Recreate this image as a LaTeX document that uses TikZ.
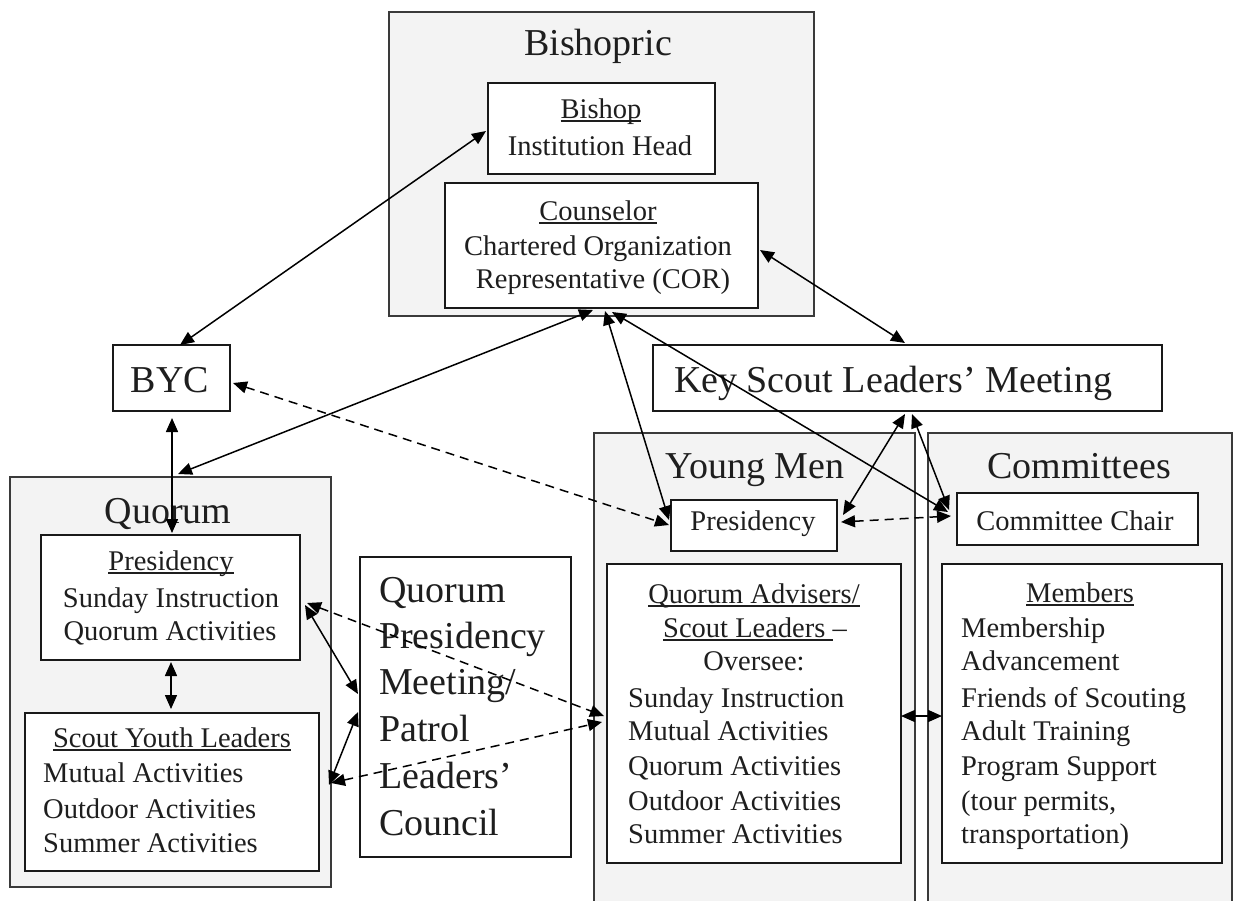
\documentclass[tikz,border=0pt]{standalone}
\usepackage{fontspec}
\setmainfont{Liberation Serif}
\usetikzlibrary{arrows.meta,calc}
\newcommand\ulx[1]{\setbox0\hbox{#1}\rlap{\rule[-3.5pt]{\wd0}{1.4pt}}\box0}
\definecolor{outerfill}{HTML}{F3F3F3}
\definecolor{edgecol}{HTML}{3A3A3A}
\definecolor{ink}{HTML}{1E1E1E}
\begin{document}
\begin{tikzpicture}[x=1pt,y=-1pt,
 outerbox/.style={draw=edgecol, fill=outerfill, line width=2pt, rectangle, inner sep=0pt, outer sep=0pt, anchor=north west},
 innerbox/.style={draw=black!90, fill=white, line width=2pt, rectangle, inner sep=0pt, outer sep=0pt, anchor=north west},
 ttl/.style={font=\fontsize{38}{46}\selectfont, text=ink, inner sep=0pt, anchor=base},
 ttlw/.style={ttl, anchor=base west},
 txt/.style={font=\fontsize{28.5}{34}\selectfont, text=ink, inner sep=0pt, anchor=base},
 txtw/.style={txt, anchor=base west},
 link/.style={line width=1.5pt, draw=black, {Triangle[length=14pt,width=12pt]}-{Triangle[length=14pt,width=12pt]}},
 dlink/.style={link, dash pattern=on 9pt off 6pt}]
\useasboundingbox (0,0) rectangle (1234,900);
\clip (0,0) rectangle (1234,900);
\fill[white] (0,0) rectangle (1234,900);

% outer group boxes
\node[outerbox, minimum width=425pt, minimum height=304pt] (bishopric) at (389,12) {};
\node[outerbox, minimum width=321pt, minimum height=410pt] (quorum) at (10,477) {};
\node[outerbox, minimum width=321pt, minimum height=475pt] (ym) at (594,433) {};
\node[outerbox, minimum width=304pt, minimum height=475pt] (comm) at (928,433) {};

% inner boxes
\node[innerbox, minimum width=227pt, minimum height=91pt] (bishop) at (488,83) {};
\node[innerbox, minimum width=313pt, minimum height=125pt] (counselor) at (445,183) {};
\node[innerbox, minimum width=117pt, minimum height=66pt] (byc) at (113,345) {};
\node[innerbox, minimum width=509pt, minimum height=66pt] (kslm) at (653,345) {};
\node[innerbox, minimum width=259pt, minimum height=125pt] (qpres) at (41,535) {};
\node[innerbox, minimum width=294pt, minimum height=158pt] (syl) at (25,713) {};
\node[innerbox, minimum width=211pt, minimum height=300pt] (qpm) at (360,557) {};
\node[innerbox, minimum width=166pt, minimum height=51pt] (ympres) at (671,500) {};
\node[innerbox, minimum width=294pt, minimum height=299pt] (qa) at (607,564) {};
\node[innerbox, minimum width=241pt, minimum height=52pt] (cchair) at (957,493) {};
\node[innerbox, minimum width=280pt, minimum height=299pt] (members) at (942,564) {};

% titles
\node[ttl] (tBishopric) at (598,55) {Bishopric};
\node[ttl] (tBYC) at (170,392) {BYC};
\node[ttl] (tKSLM) at (893,392) {Key Scout Leaders’ Meeting};
\node[ttl] (tQuorum) at (168,523) {Quorum};
\node[ttl] (tYM) at (755,478) {Young Men};
\node[ttl] (tComm) at (1079,478) {Committees};
\node[ttlw] (q1) at (379,602) {Quorum};
\node[ttlw] (q2) at (379,648) {Presidency};
\node[ttlw] (q3) at (379,694) {Meeting/};
\node[ttlw] (q4) at (379,741) {Patrol};
\node[ttlw] (q5) at (379,788) {Leaders’};
\node[ttlw] (q6) at (379,835) {Council};

% bishopric texts
\node[txt] (b1) at (601,118) {\ulx{Bishop}};
\node[txt] (b2) at (600,155) {Institution Head};
\node[txt] (c1) at (598,220) {\ulx{Counselor}};
\node[txt] (c2) at (598,255) {Chartered Organization};
\node[txt] (c3) at (603,288) {Representative (COR)};

% quorum texts
\node[txt] (p1) at (171,570) {\ulx{Presidency}};
\node[txt] (p2) at (171,607) {Sunday Instruction};
\node[txt] (p3) at (170,640) {Quorum Activities};
\node[txt] (s1) at (172,747) {\ulx{Scout Youth Leaders}};
\node[txtw] (s2) at (43,782) {Mutual Activities};
\node[txtw] (s3) at (43,818) {Outdoor Activities};
\node[txtw] (s4) at (43,852) {Summer Activities};

% young men texts
\node[txt] (y0) at (753,530) {Presidency};
\node[txt] (a1) at (754,603) {\ulx{Quorum Advisers/}};
\node[txt] (a2) at (755,637) {\ulx{Scout Leaders }–};
\node[txt] (a3) at (754,670) {Oversee:};
\node[txtw] (a4) at (628,707) {Sunday Instruction};
\node[txtw] (a5) at (628,740) {Mutual Activities};
\node[txtw] (a6) at (628,775) {Quorum Activities};
\node[txtw] (a7) at (628,810) {Outdoor Activities};
\node[txtw] (a8) at (628,843) {Summer Activities};

% committees texts
\node[txt] (m0) at (1075,530) {Committee Chair};
\node[txt] (m1) at (1080,602) {\ulx{Members}};
\node[txtw] (m2) at (961,637) {Membership};
\node[txtw] (m3) at (961,670) {Advancement};
\node[txtw] (m4) at (961,707) {Friends of Scouting};
\node[txtw] (m5) at (961,740) {Adult Training};
\node[txtw] (m6) at (961,775) {Program Support};
\node[txtw] (m7) at (961,810) {(tour permits,};
\node[txtw] (m8) at (961,843) {transportation)};

% connectors
\draw[link] ($(byc.north west)+(67,0)$) -- ($(bishop.north west)+(-2,48)$);
\draw[link] ($(counselor.north west)+(315,67)$) -- ($(kslm.north west)+(252,-2)$);
\draw[link] ($(counselor.north west)+(148,127)$) -- ($(quorum.north west)+(168,-3)$);
\draw[link] ($(counselor.north west)+(160,128)$) -- ($(ympres.north west)+(-2,20)$);
\draw[link] ($(counselor.north west)+(167,129)$) -- ($(cchair.north west)+(-9,19)$);
\draw[dlink] ($(byc.north west)+(120,38)$) -- ($(ympres.north west)+(-2,25)$);
\draw[link] ($(byc.north west)+(59,73)$) -- ($(qpres.north west)+(131,-2)$);
\draw[link] ($(kslm.north west)+(252,69)$) -- ($(ympres.north west)+(172,15)$);
\draw[link] ($(kslm.north west)+(259,69)$) -- ($(cchair.north west)+(-8,17)$);
\draw[dlink] ($(ympres.north west)+(170,22)$) -- ($(cchair.north west)+(-6,23)$);
\draw[link] ($(qpres.north west)+(130,127)$) -- ($(syl.north west)+(146,-4)$);
\draw[link] ($(qpres.north west)+(264,70)$) -- ($(qpm.north west)+(-2,137)$);
\draw[link] ($(syl.north west)+(304,72)$) -- ($(qpm.north west)+(-2,155)$);
\draw[dlink] ($(qpres.north west)+(266,68)$) -- ($(qa.north west)+(-3,152)$);
\draw[dlink] ($(syl.north west)+(306,70)$) -- ($(qa.north west)+(-5,158)$);
\draw[link] ($(qa.north west)+(294,152)$) -- ($(members.north west)+(0,152)$);
\end{tikzpicture}
\end{document}
